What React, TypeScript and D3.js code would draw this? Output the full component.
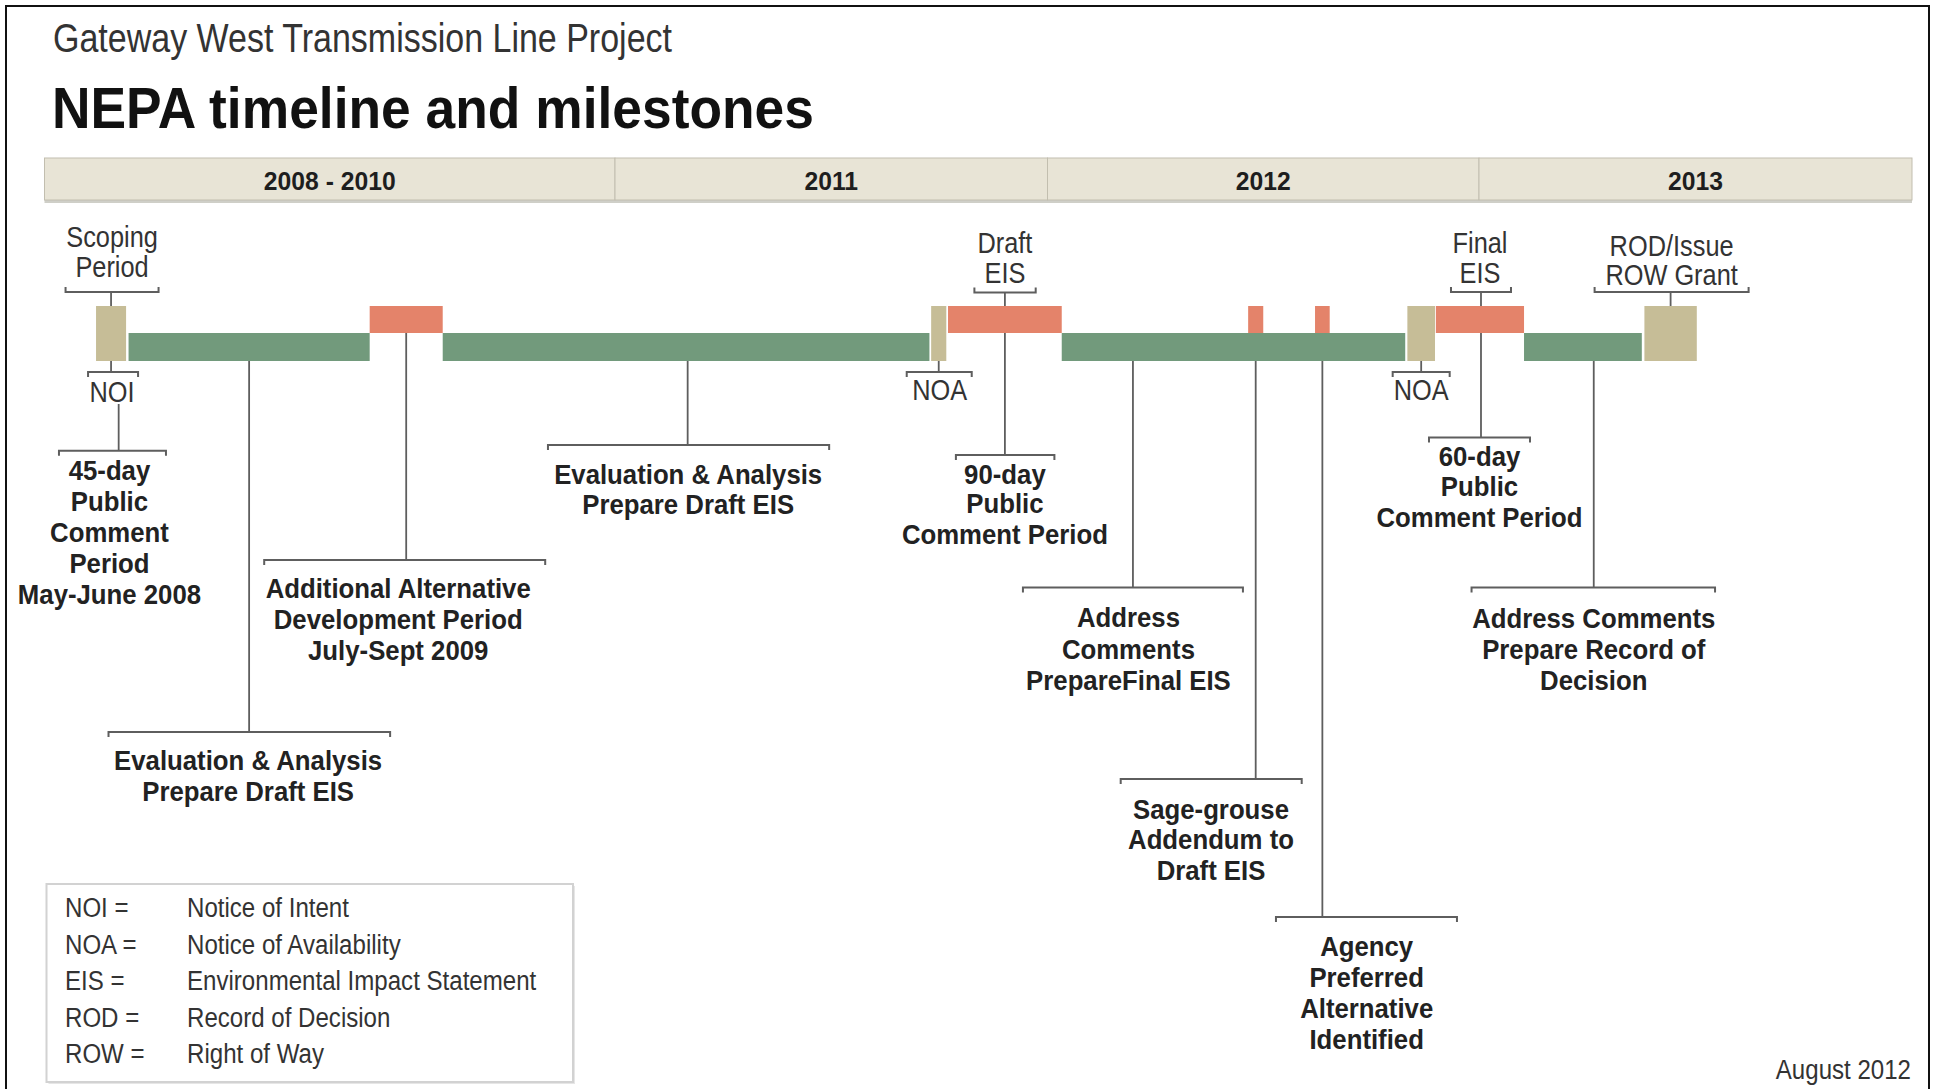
import React from "react";
import * as d3 from "d3";

// ---------- data ----------
const periodLabels = ["2008 - 2010", "2011", "2012", "2013"];
const periodStart = [2008, 2011, 2012, 2013];
const periodEnd = [2011, 2012, 2013, 2014];

// timeline phases (decimal years)
const phaseName = [
  "Scoping Period", "Evaluation & Analysis", "Additional Alternative Development",
  "Evaluation & Analysis", "NOA Draft EIS", "Draft EIS Comment Period",
  "Address Comments", "Sage-grouse Addendum", "Agency Preferred Alternative",
  "NOA Final EIS", "Final EIS Comment Period", "Prepare Record of Decision", "ROD / ROW Grant",
];
const phaseKind = [
  "milestone", "work", "comment", "work", "milestone", "comment",
  "work", "comment", "comment", "milestone", "comment", "work", "milestone",
];
const phaseStart = [2008.271, 2008.442, 2009.71, 2010.094, 2011.731, 2011.77, 2012.033, 2012.465, 2012.62, 2012.834, 2012.9, 2013.104, 2013.382];
const phaseEnd = [2008.429, 2009.71, 2010.094, 2011.727, 2011.766, 2012.033, 2012.829, 2012.5, 2012.654, 2012.898, 2013.104, 2013.376, 2013.503];

// annotations
const noteLines: string[][] = [
  ["Scoping", "Period"],
  ["Draft", "EIS"],
  ["Final", "EIS"],
  ["ROD/Issue", "ROW Grant"],
  ["NOI"],
  ["NOA"],
  ["NOA"],
  ["45-day", "Public", "Comment", "Period", "May-June 2008"],
  ["Additional Alternative", "Development Period", "July-Sept 2009"],
  ["Evaluation & Analysis", "Prepare Draft EIS"],
  ["Evaluation & Analysis", "Prepare Draft EIS"],
  ["90-day", "Public", "Comment Period"],
  ["Address", "Comments", "PrepareFinal EIS"],
  ["Sage-grouse", "Addendum to", "Draft EIS"],
  ["Agency", "Preferred", "Alternative", "Identified"],
  ["60-day", "Public", "Comment Period"],
  ["Address Comments", "Prepare Record of", "Decision"],
];
const noteYear = [2008.35, 2011.9015, 2013.0046, 2013.4425, 2008.35, 2011.7485, 2012.866, 2008.39, 2009.902, 2009.076, 2011.168, 2011.9015, 2012.198, 2012.4825, 2012.637, 2013.0046, 2013.265];

const legendAbbr = ["NOI =", "NOA =", "EIS =", "ROD =", "ROW ="];
const legendMeaning = ["Notice of Intent", "Notice of Availability", "Environmental Impact Statement", "Record of Decision", "Right of Way"];

const subtitle = "Gateway West Transmission Line Project";
const title = "NEPA timeline and milestones";
const dateNote = "August 2012";

// ---------- layout / style ----------
const W = 1937;
const H = 1089;
const FONT = "'Liberation Sans', Arial, Helvetica, sans-serif";
const SQ = 0.92; // horizontal squeeze of the bold lettering
const SQN = 0.86; // squeeze of the narrow regular lettering
const BREAK_PX = [44.5, 615, 1047.5, 1479, 1912];
const HEADER = { top: 158, bottom: 201 };
const ROW = { top: 306, mid: 333, bottom: 361 };
const COLORS: Record<string, string> = { work: "#729a7c", comment: "#e4836a", milestone: "#c6bd97" };
const LINE = "#5e5e5e";

type NoteLayout = { pos: "above" | "below"; from?: number; by: number; l: number; r: number; dx: number; base: number[]; bold: boolean };
const noteLayout: NoteLayout[] = [
  { pos: "above", by: 292, l: -45.5, r: 47.5, dx: 1, base: [247, 277], bold: false },
  { pos: "above", by: 292.5, l: -30.5, r: 30.8, dx: 0, base: [252.7, 283.3], bold: false },
  { pos: "above", by: 292, l: -30, r: 30, dx: -1, base: [252.7, 283.3], bold: false },
  { pos: "above", by: 292, l: -76, r: 78, dx: 1, base: [256, 285], bold: false },
  { pos: "below", from: ROW.bottom, by: 372, l: -23, r: 27, dx: 1, base: [402], bold: false },
  { pos: "below", from: ROW.bottom, by: 372, l: -32, r: 33, dx: 1, base: [400], bold: false },
  { pos: "below", from: ROW.bottom, by: 372, l: -28.5, r: 28.5, dx: 0, base: [400], bold: false },
  { pos: "below", from: 404, by: 450.7, l: -59.7, r: 47.3, dx: -9.2, base: [480, 511, 542, 573, 604], bold: true },
  { pos: "below", from: ROW.mid, by: 560, l: -142, r: 139, dx: -8, base: [598, 629, 660], bold: true },
  { pos: "below", from: ROW.bottom, by: 732, l: -140.6, r: 141, dx: -1, base: [770, 801], bold: true },
  { pos: "below", from: ROW.bottom, by: 445, l: -139.7, r: 141.5, dx: 0.5, base: [483.5, 514], bold: true },
  { pos: "below", from: ROW.mid, by: 455, l: -49, r: 49.5, dx: 0, base: [483.5, 513, 543.5], bold: true },
  { pos: "below", from: ROW.bottom, by: 587.5, l: -110, r: 110, dx: -4.5, base: [627, 658.5, 689.5], bold: true },
  { pos: "below", from: ROW.mid, by: 779, l: -135, r: 46, dx: -44.7, base: [818.5, 849, 880], bold: true },
  { pos: "below", from: ROW.mid, by: 917, l: -46.4, r: 134.6, dx: 44.3, base: [955.5, 986.7, 1017.7, 1048.5], bold: true },
  { pos: "below", from: ROW.mid, by: 437.5, l: -52, r: 49, dx: -1.5, base: [465.5, 496, 527], bold: true },
  { pos: "below", from: ROW.bottom, by: 587.5, l: -122.2, r: 121.3, dx: 0, base: [627.5, 658.5, 689.5], bold: true },
];

function Txt(props: { x: number; y: number; children: string; size: number; bold?: boolean; anchor?: string; fill?: string; sq?: number }) {
  const { x, y, children, size, bold, anchor = "start", fill = "#2a2a2a", sq = SQ } = props;
  return (
    <text
      transform={`translate(${x},${y}) scale(${sq},1)`}
      fontFamily={FONT}
      fontSize={size}
      fontWeight={bold ? 700 : 400}
      textAnchor={anchor}
      fill={fill}
    >
      {children}
    </text>
  );
}

export default function App() {
  const x = d3.scaleLinear().domain([2008, 2011, 2012, 2013, 2014]).range(BREAK_PX);

  const order = ["work", "comment", "milestone"];
  const phases = phaseName
    .map((n, i) => ({ n, kind: phaseKind[i], s: phaseStart[i], e: phaseEnd[i] }))
    .sort((a, b) => order.indexOf(a.kind) - order.indexOf(b.kind));

  const rowY = (k: string) => (k === "work" ? ROW.mid : ROW.top);
  const rowH = (k: string) => (k === "work" ? ROW.bottom - ROW.mid : k === "comment" ? ROW.mid - ROW.top : ROW.bottom - ROW.top);

  const legendRows = d3.range(legendAbbr.length);
  const legendY = d3.scaleLinear().domain([0, 4]).range([917, 1063]);

  return (
    <svg width={W} height={H} style={{ position: "absolute", left: 0, top: 0, background: "#fff" }}>
      <rect x={0} y={0} width={W} height={H} fill="#fff" />
      {/* frame */}
      <path d={`M6,${H} V6 H1929 V${H}`} fill="none" stroke="#111" strokeWidth={2} />

      <Txt x={53} y={52} size={40} fill="#333" sq={0.85}>{subtitle}</Txt>
      <Txt x={52} y={128} size={58} bold fill="#111">{title}</Txt>

      {/* header bar */}
      <rect x={BREAK_PX[0]} y={HEADER.top + 2} width={BREAK_PX[4] - BREAK_PX[0]} height={HEADER.bottom - HEADER.top} fill="#cfcfc8" />
      {periodLabels.map((lab, i) => {
        const x0 = x(periodStart[i]);
        const x1 = x(periodEnd[i]);
        return (
          <g key={lab}>
            <rect x={x0} y={HEADER.top} width={x1 - x0} height={HEADER.bottom - HEADER.top - 1} fill="#e8e4d6" stroke="#c2beaf" strokeWidth={1} />
            <Txt x={(x0 + x1) / 2} y={190} size={26} bold anchor="middle" fill="#1e1e1e" sq={0.95}>{lab}</Txt>
          </g>
        );
      })}

      {/* leaders & brackets */}
      {noteLines.map((lines, i) => {
        const L = noteLayout[i];
        const cx = x(noteYear[i]);
        const tick = L.pos === "above" ? -5 : 5;
        const y0 = L.pos === "above" ? ROW.top : (L.from as number);
        return (
          <g key={"n" + i}>
            <line x1={cx} x2={cx} y1={y0} y2={L.by} stroke={LINE} strokeWidth={1.8} />
            <path
              d={`M${cx + L.l},${L.by + tick} V${L.by} H${cx + L.r} V${L.by + tick}`}
              fill="none"
              stroke={LINE}
              strokeWidth={2}
            />
            {lines.map((t, j) => (
              <Txt
                key={j}
                x={cx + L.dx}
                y={L.base[j]}
                size={L.bold ? 28 : 29.5}
                bold={L.bold}
                anchor="middle"
                fill={L.bold ? "#222" : "#333"}
                sq={L.bold ? SQ : SQN}
              >
                {t}
              </Txt>
            ))}
          </g>
        );
      })}

      {/* bars */}
      {phases.map((p, i) => (
        <rect key={"p" + i} x={x(p.s)} y={rowY(p.kind)} width={x(p.e) - x(p.s)} height={rowH(p.kind)} fill={COLORS[p.kind]}>
          <title>{p.n}</title>
        </rect>
      ))}

      {/* legend */}
      <rect x={48.5} y={886} width={526.5} height={198} fill="#e6e6e6" />
      <rect x={46.5} y={884} width={526.5} height={198} fill="#fff" stroke="#d2d2d2" strokeWidth={2} />
      {legendRows.map((i) => (
        <g key={"lg" + i}>
          <Txt x={65} y={legendY(i)} size={28} fill="#333" sq={SQN}>{legendAbbr[i]}</Txt>
          <Txt x={187} y={legendY(i)} size={28} fill="#333" sq={SQN}>{legendMeaning[i]}</Txt>
        </g>
      ))}

      <Txt x={1911} y={1079} size={28} anchor="end" fill="#333" sq={SQN}>{dateNote}</Txt>
    </svg>
  );
}
